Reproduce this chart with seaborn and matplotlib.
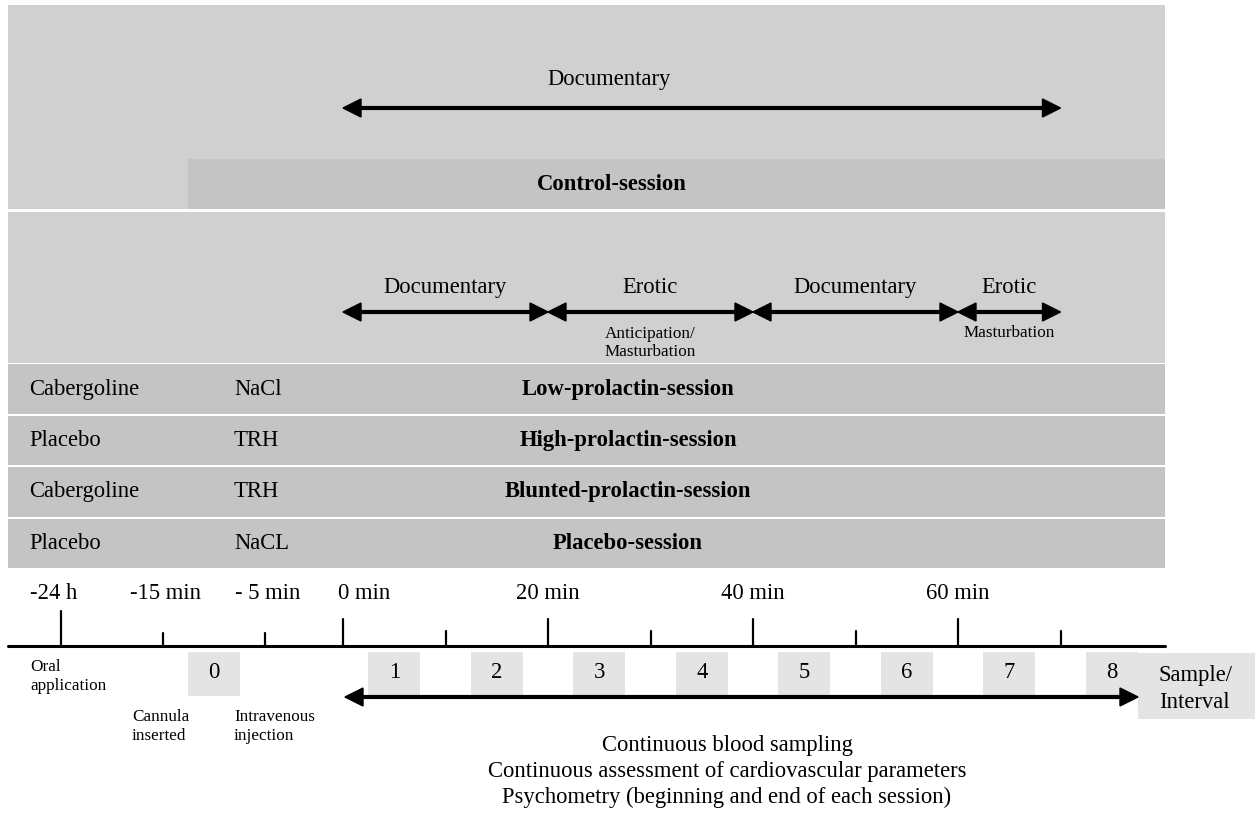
import matplotlib
matplotlib.use("Agg")
import matplotlib.pyplot as plt
from matplotlib.patches import Rectangle, Polygon
import seaborn as sns

# ---------------- data ----------------
session_names = ["Low-prolactin-session", "High-prolactin-session",
                 "Blunted-prolactin-session", "Placebo-session"]
oral_drug = ["Cabergoline", "Placebo", "Cabergoline", "Placebo"]
iv_drug = ["NaCl", "TRH", "TRH", "NaCL"]

control_label = "Control-session"
control_film = "Documentary"
control_span = [0, 70]          # minutes
control_label_at = 26           # minutes (label position)

film_labels = ["Documentary", "Erotic", "Documentary", "Erotic"]
film_start = [0, 20, 40, 60]
film_end = [20, 40, 60, 70]
film_sub = ["", "Anticipation/\nMasturbation", "", "Masturbation"]

pre_ticks = [-25, -15, -5]                  # broken pre-session scale (-25 = day before)
pre_labels = ["-24 h", "-15 min", "- 5 min"]
pre_notes = ["Oral\napplication", "Cannula\ninserted", "Intravenous\ninjection"]
pre_tall = [True, False, False]

session_ticks = [0, 10, 20, 30, 40, 50, 60, 70]
session_tick_labels = ["0 min", "", "20 min", "", "40 min", "", "60 min", ""]

sample_ids = [0, 1, 2, 3, 4, 5, 6, 7, 8]
sample_times = [-10, 5, 15, 25, 35, 45, 55, 65, 75]
sampling_span = [0, 77.5]

bottom_lines = ["Continuous blood sampling",
                "Continuous assessment of cardiovascular parameters",
                "Psychometry (beginning and end of each session)"]

# ---------------- style ----------------
sns.set_theme(style="white")
plt.rcParams["font.family"] = ["Liberation Serif", "DejaVu Serif"]
plt.rcParams["text.color"] = "black"

PANEL = "#d0d0d0"
BAR = "#c4c4c4"
BOX = "#e4e4e4"
FS = 16.3
FS_S = 12.3

def xpos(m):
    """time (minutes) -> horizontal position; broken scale before 0 min"""
    if m >= 0:
        return 343 + 10.25 * m
    return 316 + 10.2 * m

fig = plt.figure(figsize=(12.55, 8.13), dpi=100)
ax = fig.add_axes([0, 0, 1, 1])
ax.set_xlim(0, 1255)
ax.set_ylim(813, 0)
ax.axis("off")

LEFT, RIGHT = 8, 1165

def darrow(x0, x1, y, lw=3.0, hl=18, hw=9):
    ax.plot([x0 + hl, x1 - hl], [y, y], color="black", lw=lw,
            solid_capstyle="butt", zorder=3)
    ax.add_patch(Polygon([[x0, y], [x0 + hl, y - hw], [x0 + hl, y + hw]],
                         closed=True, color="black", zorder=3))
    ax.add_patch(Polygon([[x1, y], [x1 - hl, y - hw], [x1 - hl, y + hw]],
                         closed=True, color="black", zorder=3))

# top panel: control session
ax.add_patch(Rectangle((LEFT, 5), RIGHT - LEFT, 204, color=PANEL, lw=0))
ax.add_patch(Rectangle((188, 159), RIGHT - 188, 50, color=BAR, lw=0))
ax.text(xpos(control_label_at), 80, control_film, fontsize=FS, ha="center", va="center")
darrow(xpos(control_span[0]), xpos(control_span[1]), 108)
ax.text(612, 184, control_label, fontsize=FS, fontweight="bold", ha="center", va="center")

# second panel: films
ax.add_patch(Rectangle((LEFT, 212), RIGHT - LEFT, 151, color=PANEL, lw=0))
for lab, s, e, sub in zip(film_labels, film_start, film_end, film_sub):
    x0, x1 = xpos(s), xpos(e)
    xc = (x0 + x1) / 2
    darrow(x0, x1, 312)
    ax.text(xc, 287, lab, fontsize=FS, ha="center", va="center")
    if sub:
        parts = sub.split("\n")
        if len(parts) == 2:
            ax.text(xc, 334, parts[0], fontsize=FS_S, ha="center", va="center")
            ax.text(xc, 352, parts[1], fontsize=FS_S, ha="center", va="center")
        else:
            ax.text(xc, 333, parts[0], fontsize=FS_S, ha="center", va="center")

# session rows
row_h, row_gap, row_top = 49.5, 2, 364.5
for i, (name, od, iv) in enumerate(zip(session_names, oral_drug, iv_drug)):
    y0 = row_top + i * (row_h + row_gap) - (0.5 if i else 0)
    ax.add_patch(Rectangle((LEFT, y0), RIGHT - LEFT, row_h, color=BAR, lw=0))
    yc = y0 + row_h / 2
    ax.text(29, yc, od, fontsize=FS, ha="left", va="center")
    ax.text(234, yc, iv, fontsize=FS, ha="left", va="center")
    ax.text(628, yc, name, fontsize=FS, fontweight="bold", ha="center", va="center")

# time axis
AX_Y = 646
ax.plot([LEFT, RIGHT], [AX_Y, AX_Y], color="black", lw=2.2, zorder=3)
for m, lab, note, tall in zip(pre_ticks, pre_labels, pre_notes, pre_tall):
    x = xpos(m)
    ax.plot([x, x], [611 if tall else 633, AX_Y], color="black", lw=1.6)
    ax.text(x - 7 if tall else x + 3, 593, lab, fontsize=FS, ha="center", va="center")
    l1, l2 = note.split("\n")
    ny = 667 if tall else 717
    ax.text(x - 31, ny, l1, fontsize=FS_S, ha="left", va="center")
    ax.text(x - 31, ny + 19, l2, fontsize=FS_S, ha="left", va="center")
for m, lab in zip(session_ticks, session_tick_labels):
    x = xpos(m)
    tall = (m % 20 == 0)
    ax.plot([x, x], [619 if tall else 631, AX_Y], color="black", lw=1.6)
    if lab:
        if m == 0:
            ax.text(x - 5, 593, lab, fontsize=FS, ha="left", va="center")
        else:
            ax.text(x, 593, lab, fontsize=FS, ha="center", va="center")

# sample boxes
for sid, t in zip(sample_ids, sample_times):
    xc = xpos(t)
    ax.add_patch(Rectangle((xc - 26, 652), 52, 44, color=BOX, lw=0, zorder=2))
    ax.text(xc, 672, str(sid), fontsize=FS, ha="center", va="center", zorder=4)

ax.add_patch(Rectangle((1138, 653), 117, 66, color=BOX, lw=0, zorder=2))
ax.text(1159, 675, "Sample/", fontsize=FS, ha="left", va="center", zorder=4)
ax.text(1159, 702, "Interval", fontsize=FS, ha="left", va="center", zorder=4)

darrow(xpos(sampling_span[0]) + 2, 1138, 697)

for k, line in enumerate(bottom_lines):
    ax.text(727, 745 + 26 * k, line, fontsize=FS, ha="center", va="center")

fig.savefig("out.png", dpi=100)
